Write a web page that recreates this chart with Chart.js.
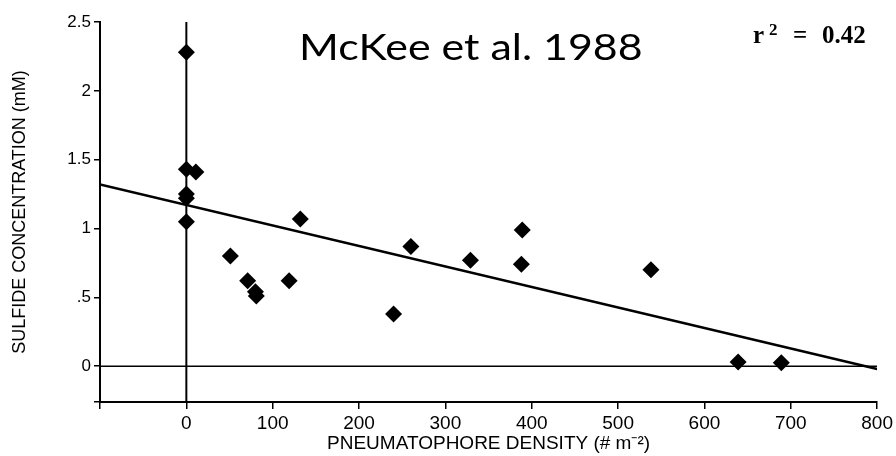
<!DOCTYPE html>
<html>
<head>
<meta charset="utf-8">
<script src="https://cdn.jsdelivr.net/npm/chart.js@4.4.0/dist/chart.umd.min.js"></script>
<style>
  html, body { margin: 0; padding: 0; background: #fff; }
</style>
</head>
<body>
<canvas id="sulfideChart" width="896" height="456"></canvas>
<script>
// Pneumatophore density (# m-2) against sulfide concentration (mM)
const densityValues = [0, 0, 11, 0, 0, 0, 51, 71, 80, 81, 119, 132, 240, 260, 329, 389, 388, 538, 639, 689];
const sulfideValues = [2.28, 1.43, 1.41, 1.25, 1.22, 1.05, 0.80, 0.62, 0.54, 0.51, 0.62, 1.07, 0.38, 0.87, 0.77, 0.99, 0.74, 0.70, 0.03, 0.025];

// regression line end points
const fitX = [-100, 800];
const fitY = [1.32, -0.02];

const xMin = -100, xMax = 800;
const yMin = -0.26, yMax = 2.5;

const xTickValues = [-100, 0, 100, 200, 300, 400, 500, 600, 700, 800];
const xTickLabels = ['', '0', '100', '200', '300', '400', '500', '600', '700', '800'];
const yTickValues = [-0.26, 0, 0.5, 1, 1.5, 2, 2.5];
const yTickLabels = ['', '0', '.5', '1', '1.5', '2', '2.5'];

const chartTitle = 'McKee et al. 1988';
const r2Value = '0.42';

const points = densityValues.map((x, i) => ({ x: x, y: sulfideValues[i] }));
const fitLine = fitX.map((x, i) => ({ x: x, y: fitY[i] }));
const zeroLine = [{ x: xMin, y: 0 }, { x: xMax, y: 0 }];
const originLine = [{ x: 0, y: yMin }, { x: 0, y: yMax }];

// title and r2 text drawn on top of the plot
const annotationPlugin = {
    id: 'annotations',
    afterDatasetsDraw(chart) {
        const ctx = chart.ctx;
        ctx.save();
        ctx.fillStyle = '#000';
        ctx.textBaseline = 'alphabetic';
        ctx.textAlign = 'left';

        // the title in the source is a bit stretched sideways
        ctx.save();
        ctx.translate(299, 60);
        ctx.scale(1.16, 1);
        ctx.font = '37px Lato';
        ctx.fillText(chartTitle, 0, 0);
        ctx.restore();

        ctx.font = 'bold 25px "Liberation Serif"';
        ctx.fillText('r', 753, 43);
        ctx.font = 'bold 17px "Liberation Serif"';
        ctx.fillText('2', 769, 35);
        ctx.font = 'bold 25px "Liberation Serif"';
        ctx.fillText('=', 793, 43);
        ctx.fillText(r2Value, 822, 43);
        ctx.restore();
    }
};

const ctx = document.getElementById('sulfideChart').getContext('2d');
new Chart(ctx, {
    type: 'scatter',
    data: {
        datasets: [{
            data: points,
            pointStyle: 'rectRot',
            pointRadius: 8.5,
            pointBackgroundColor: '#000',
            pointBorderWidth: 0
        }, {
            data: fitLine,
            showLine: true,
            borderColor: '#000',
            borderWidth: 2.5,
            pointRadius: 0
        }, {
            data: zeroLine,
            showLine: true,
            borderColor: '#000',
            borderWidth: 1.5,
            pointRadius: 0
        }, {
            data: originLine,
            showLine: true,
            borderColor: '#000',
            borderWidth: 2,
            pointRadius: 0
        }]
    },
    options: {
        responsive: false,
        animation: false,
        layout: { padding: { left: 0, right: 16, top: 22, bottom: 0 } },
        plugins: {
            legend: { display: false },
            tooltip: { enabled: false }
        },
        scales: {
            x: {
                type: 'linear',
                min: xMin,
                max: xMax,
                afterBuildTicks: scale => { scale.ticks = xTickValues.map(v => ({ value: v })); },
                afterFit: scale => { scale.height = 54; },
                ticks: {
                    autoSkip: false,
                    maxRotation: 0,
                    padding: 3,
                    color: '#000',
                    font: { family: '"Liberation Sans"', size: 19 },
                    callback: value => xTickLabels[xTickValues.indexOf(value)]
                },
                grid: { drawOnChartArea: false, tickLength: 7, color: '#000', lineWidth: 1.5 },
                border: { color: '#000', width: 2 },
                title: {
                    display: true,
                    text: 'PNEUMATOPHORE DENSITY (# m\u207B\u00B2)',
                    color: '#000',
                    font: { family: '"Liberation Sans"', size: 19 },
                    padding: { top: 1, bottom: 1 }
                }
            },
            y: {
                type: 'linear',
                min: yMin,
                max: yMax,
                afterBuildTicks: scale => { scale.ticks = yTickValues.map(v => ({ value: v })); },
                afterFit: scale => { scale.width = 100; },
                ticks: {
                    autoSkip: false,
                    padding: 3,
                    color: '#000',
                    font: { family: '"Liberation Sans"', size: 17 },
                    callback: value => yTickLabels[yTickValues.indexOf(value)]
                },
                grid: { drawOnChartArea: false, tickLength: 6, color: '#000', lineWidth: 1.5 },
                border: { color: '#000', width: 2 },
                title: {
                    display: true,
                    text: 'SULFIDE CONCENTRATION (mM)',
                    color: '#000',
                    font: { family: '"Liberation Sans"', size: 18 },
                    padding: { top: 9, bottom: 9 }
                }
            }
        }
    },
    plugins: [annotationPlugin]
});
</script>
</body>
</html>
